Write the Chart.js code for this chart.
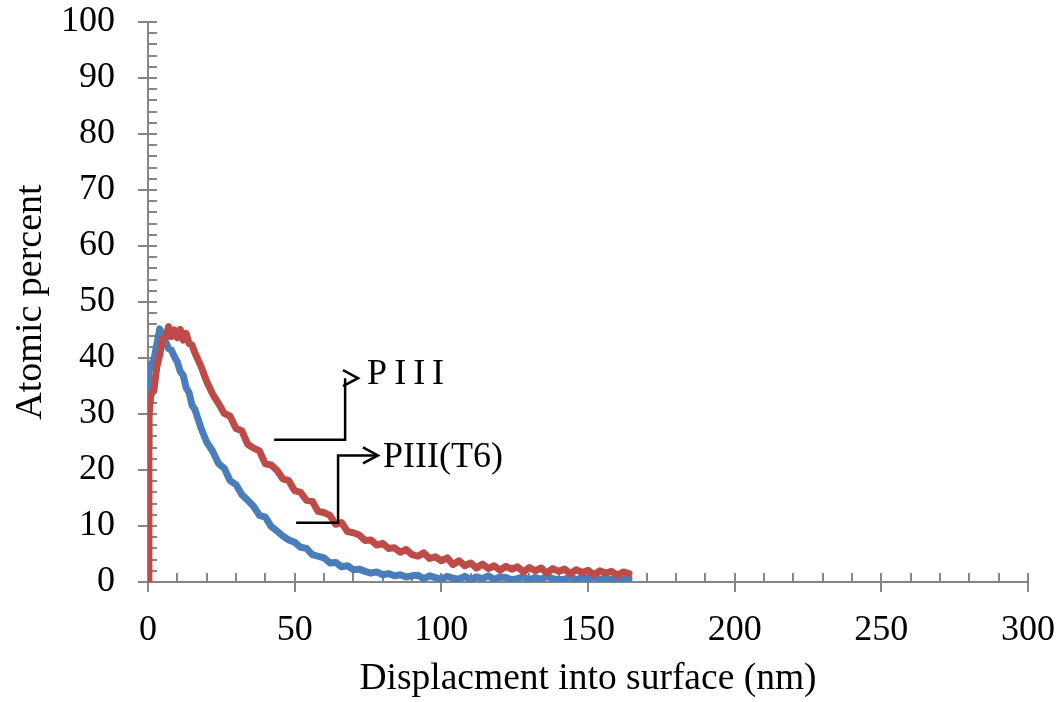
<!DOCTYPE html>
<html>
<head>
<meta charset="utf-8">
<title>Atomic percent vs displacement</title>
<script src="https://cdn.jsdelivr.net/npm/chart.js@4.4.1/dist/chart.umd.min.js"></script>
<style>
  html, body { margin: 0; padding: 0; background: #fff; }
  #wrap { width: 1062px; height: 702px; }
</style>
</head>
<body>
<div id="wrap"><canvas id="chart" width="1062" height="702"></canvas></div>
<script>
// depth (nm), shared by both profiles
var depth = [0, 0.3, 1, 2, 3, 4, 5, 6, 7, 8, 9, 10, 11, 12, 13, 14, 15, 16,
  18, 20, 22, 24, 26, 28, 30, 32, 34, 36, 38, 40, 42, 44, 46, 48, 50,
  52, 54, 56, 58, 60, 62, 64, 66, 68, 70, 72, 74, 76, 78, 80, 82, 84,
  86, 88, 90, 92, 94, 96, 98, 100, 102, 104, 106, 108, 110, 112, 114, 116,
  118, 120, 122, 124, 126, 128, 130, 132, 134, 136, 138, 140, 142, 144,
  146, 148, 150, 152, 154, 156, 158, 160, 162, 164];

// PIII (red)
var piii = [0, 29.5, 33.5, 34.2, 38.4, 40.6, 43.5, 43.6, 45.6, 43.8, 45.0, 43.6, 45.1, 43.2, 44.4, 42.6, 42.3, 40.9,
  38.6, 35.8, 33.6, 31.9, 30.1, 29.6, 27.4, 27.0, 24.6, 23.9, 23.4, 21.1, 20.9, 19.9, 18.4, 18.1, 16.3,
  16.0, 14.6, 14.4, 12.6, 12.4, 11.9, 10.3, 10.6, 9.0, 8.8, 8.4, 7.4, 7.5, 6.6, 6.9, 6.0, 6.1,
  5.3, 5.8, 4.9, 4.6, 5.2, 4.2, 4.5, 3.8, 4.3, 3.1, 3.8, 2.9, 3.4, 2.5, 3.2, 2.4,
  2.9, 2.1, 2.8, 2.3, 2.7, 1.8, 2.6, 2.0, 2.5, 1.6, 2.4, 1.9, 2.3, 1.5,
  2.2, 1.7, 2.1, 1.3, 2.0, 1.6, 1.9, 1.2, 1.8, 1.5];

// PIII(T6) (blue)
var piiiT6 = [24, 37.5, 38.8, 39.6, 42.4, 45.2, 43.8, 42.9, 41.7, 41.4, 40.2, 39.3, 37.6, 36.9, 34.7, 33.8, 31.6, 30.8,
  27.6, 25.0, 23.4, 21.2, 20.3, 18.1, 17.4, 15.6, 14.6, 13.5, 11.9, 11.6, 9.9, 9.1, 8.2, 7.5, 7.1,
  6.2, 6.0, 4.9, 4.6, 4.3, 3.4, 3.5, 2.7, 2.9, 2.2, 2.3, 1.9, 1.6, 1.8, 1.3, 1.5, 1.1,
  1.3, 0.9, 1.1, 1.2, 0.6, 1.1, 0.8, 0.5, 1.0, 0.7, 0.5, 1.0, 0.4, 0.9, 0.6, 1.1,
  0.5, 0.9, 0.8, 0.4, 0.6, 0.9, 0.4, 0.8, 0.5, 1.0, 0.6, 0.4, 0.5, 0.9,
  0.4, 0.8, 0.6, 0.9, 0.5, 0.7, 0.4, 0.8, 0.4, 0.6];

var xTicks = [0, 50, 100, 150, 200, 250, 300];
var yTicks = [0, 10, 20, 30, 40, 50, 60, 70, 80, 90, 100];

function toPoints(ys) {
  return depth.map(function (d, i) { return { x: d, y: ys[i] }; });
}

var serif = "'Liberation Serif', 'Times New Roman', serif";
var axisGray = "#868686";

function noScalePadding(s) {
  s.paddingTop = 0;
  s.paddingBottom = 0;
  s.paddingLeft = 0;
  s.paddingRight = 0;
}

// tick marks: major cross the axis, minor point inward
var tickMarks = {
  id: "tickMarks",
  beforeDatasetsDraw: function (chart) {
    var c = chart.ctx, xs = chart.scales.x, ys = chart.scales.y;
    var x0 = xs.getPixelForValue(0), y0 = ys.getPixelForValue(0);
    c.save();
    c.strokeStyle = axisGray;
    c.lineWidth = 2;
    c.beginPath();
    for (var v = 0; v <= 300; v += 10) {
      var px = Math.round(xs.getPixelForValue(v));
      var major = v % 50 === 0;
      c.moveTo(px, y0 - 9);
      c.lineTo(px, major ? y0 + 10 : y0);
    }
    for (var w = 0; w <= 100; w += 2) {
      var py = Math.round(ys.getPixelForValue(w));
      var maj = w % 10 === 0;
      c.moveTo(maj ? x0 - 10 : x0, py);
      c.lineTo(x0 + 9, py);
    }
    c.stroke();
    c.restore();
  }
};

// the two arrow call-outs naming the curves
var callouts = {
  id: "callouts",
  afterDraw: function (chart) {
    var c = chart.ctx, xs = chart.scales.x, ys = chart.scales.y;
    function P(x, y) { return [xs.getPixelForValue(x), ys.getPixelForValue(y)]; }
    function arrow(pts, tip) {
      c.beginPath();
      c.moveTo(pts[0][0], pts[0][1]);
      for (var i = 1; i < pts.length; i++) c.lineTo(pts[i][0], pts[i][1]);
      c.stroke();
      c.beginPath();
      c.moveTo(tip[0] - 15, tip[1] - 8);
      c.lineTo(tip[0], tip[1]);
      c.lineTo(tip[0] - 15, tip[1] + 8);
      c.stroke();
    }
    c.save();
    c.strokeStyle = "#000";
    c.lineWidth = 2.5;
    var a = P(43, 25.4), b = P(67.2, 25.4), d = P(67.2, 36.4), t = P(71.6, 36.4);
    arrow([a, b, d], t);
    var e = P(50.5, 10.6), f = P(64.8, 10.6), g = P(64.8, 22.6), h = P(78.4, 22.6);
    arrow([e, f, g, h], h);
    c.fillStyle = "#000";
    c.textBaseline = "middle";
    c.textAlign = "left";
    c.font = "36px " + serif;
    var l1 = P(74.7, 37.0);
    if ("letterSpacing" in c) c.letterSpacing = "7px";
    c.fillText("PIII", l1[0], l1[1]);
    if ("letterSpacing" in c) c.letterSpacing = "0px";
    var l2 = P(80.1, 22.3);
    c.fillText("PIII(T6)", l2[0], l2[1]);
    c.restore();
  }
};

var ctx = document.getElementById("chart");

new Chart(ctx, {
  type: "line",
  data: {
    datasets: [
      {
        label: "PIII",
        data: toPoints(piii),
        borderColor: "#BE4B48",
        backgroundColor: "#BE4B48",
        borderWidth: 7,
        pointRadius: 0,
        tension: 0,
        borderJoinStyle: "round",
        borderCapStyle: "round"
      },
      {
        label: "PIII(T6)",
        data: toPoints(piiiT6),
        borderColor: "#4A7EBB",
        backgroundColor: "#4A7EBB",
        borderWidth: 7,
        pointRadius: 0,
        tension: 0,
        borderJoinStyle: "round",
        borderCapStyle: "round"
      }
    ]
  },
  options: {
    responsive: false,
    animation: false,
    layout: { padding: { left: 0, right: 34, top: 22, bottom: 0 } },
    plugins: {
      legend: { display: false },
      tooltip: { enabled: false }
    },
    scales: {
      x: {
        type: "linear",
        min: 0,
        max: 300,
        afterBuildTicks: function (s) { s.ticks = xTicks.map(function (v) { return { value: v }; }); },
        afterFit: function (s) { s.height = 120; noScalePadding(s); },
        grid: { display: false },
        border: { display: true, color: axisGray, width: 2 },
        ticks: { color: "#000", font: { family: serif, size: 36 }, padding: 19, maxRotation: 0 },
        title: {
          display: true,
          text: "Displacment into surface (nm)",
          color: "#000",
          font: { family: serif, size: 37.5 },
          padding: { top: 0, bottom: 0 }
        }
      },
      y: {
        type: "linear",
        min: 0,
        max: 100,
        afterBuildTicks: function (s) { s.ticks = yTicks.map(function (v) { return { value: v }; }); },
        afterFit: function (s) { s.width = 148; noScalePadding(s); },
        grid: { display: false },
        border: { display: true, color: axisGray, width: 2 },
        ticks: { color: "#000", font: { family: serif, size: 36 }, padding: 25 },
        title: {
          display: true,
          text: "Atomic percent",
          color: "#000",
          font: { family: serif, size: 38 },
          padding: { top: 8, bottom: 0 }
        }
      }
    }
  },
  plugins: [tickMarks, callouts]
});
</script>
</body>
</html>
